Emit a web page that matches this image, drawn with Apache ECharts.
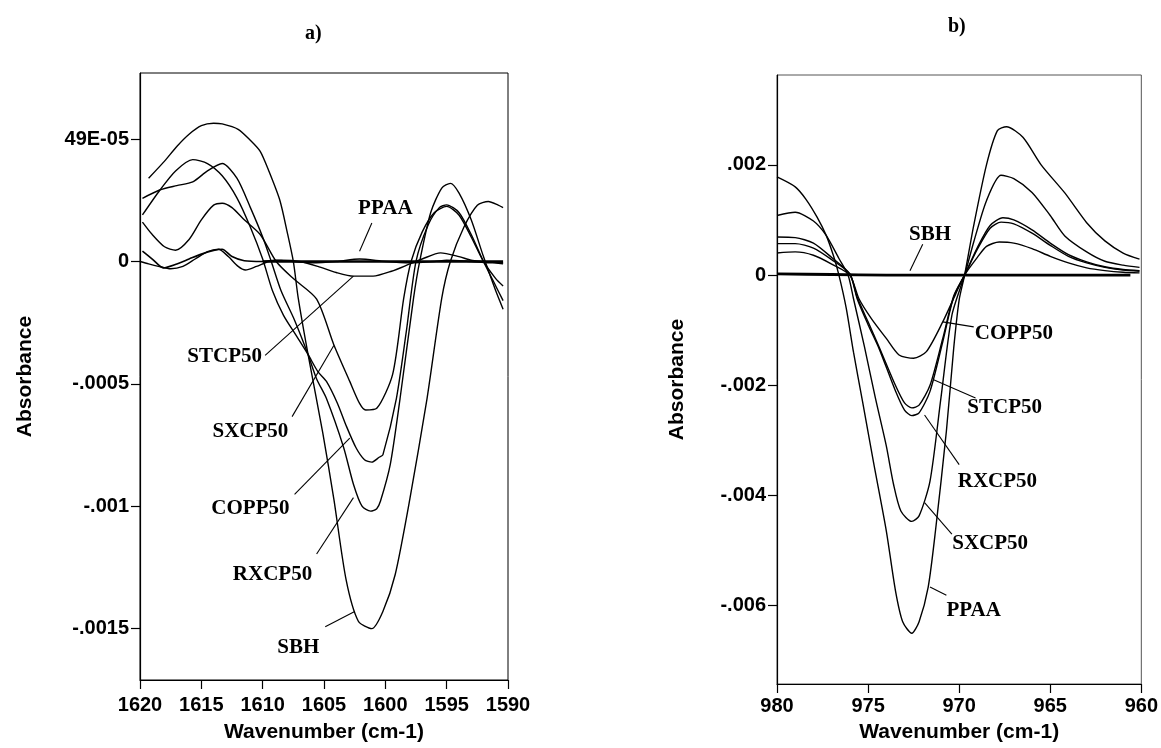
<!DOCTYPE html>
<html>
<head>
<meta charset="utf-8">
<script src="https://cdn.jsdelivr.net/npm/echarts@6/dist/echarts.min.js"></script>
<style>
  html, body { margin: 0; padding: 0; background: #fff; }
  #chart { width: 1161px; height: 748px; }
</style>
</head>
<body>
<div id="chart"></div>
<script>
// ---- Panel a) : 1620-1590 cm-1 difference spectra ----
const aXTicks = [1620, 1615, 1610, 1605, 1600, 1595, 1590];
const aYTicks = [-0.0015, -0.001, -0.0005, 0, 0.0005];
const aYTickLabels = ['-.0015', '-.001', '-.0005', '0', '49E-05'];

const aSBH = [
  [1619.3, 0.00034], [1618.0, 0.00041], [1617.0, 0.00047], [1616.0, 0.00052], [1615.0, 0.000555],
  [1614.0, 0.000565], [1613.3, 0.000562], [1612.0, 0.00054], [1611.0, 0.000495], [1610.2, 0.00045],
  [1609.5, 0.00037], [1608.6, 0.00025], [1608.0, 0.00012], [1607.5, 0.0], [1607.1, -0.00015],
  [1606.3, -0.00038], [1605.1, -0.0007], [1604.2, -0.00097], [1603.2, -0.0013], [1602.2, -0.00147],
  [1601.1, -0.0015], [1600.2, -0.00143], [1599.2, -0.00128], [1598.0, -0.00097], [1596.6, -0.00056],
  [1595.4, -0.00015], [1594.7, 0.0], [1593.6, 0.00014], [1592.5, 0.00023], [1591.6, 0.000245],
  [1590.8, 0.00023], [1590.4, 0.00022]
];
const aRXCP50 = [
  [1619.8, 0.000258], [1618.4, 0.000292], [1617.0, 0.00031], [1615.7, 0.000325], [1614.5, 0.00037],
  [1613.3, 0.0004], [1612.1, 0.00034], [1611.0, 0.00022], [1610.0, 0.0001], [1609.3, 0.0],
  [1608.5, -0.00012], [1607.4, -0.00024], [1606.3, -0.00038], [1605.6, -0.00048], [1604.8, -0.00056],
  [1603.4, -0.00076], [1602.6, -0.00091], [1601.9, -0.001], [1601.2, -0.00102], [1600.7, -0.00101],
  [1600.4, -0.00098], [1599.6, -0.00083], [1598.8, -0.00056], [1597.7, -0.00015], [1597.2, 0.0],
  [1596.3, 0.0002], [1595.4, 0.0003], [1594.7, 0.000319], [1594.0, 0.00028], [1593.0, 0.00017],
  [1592.0, 0.00002], [1591.0, -0.00012], [1590.4, -0.000195]
];
const aCOPP50 = [
  [1619.8, 0.00019], [1618.4, 0.00029], [1617.1, 0.00037], [1615.7, 0.000416], [1614.5, 0.0004],
  [1613.3, 0.00035], [1612.1, 0.00026], [1611.0, 0.00014], [1610.0, 0.00001], [1609.2, -0.00012],
  [1608.3, -0.00022], [1607.3, -0.0003], [1606.3, -0.00038], [1605.5, -0.00045], [1604.8, -0.00049],
  [1603.9, -0.00058], [1603.2, -0.00067], [1602.4, -0.00076], [1601.7, -0.00081], [1601.1, -0.00082],
  [1600.5, -0.0008], [1600.2, -0.00079], [1599.1, -0.00056], [1598.3, -0.00029], [1597.5, 0.0],
  [1596.5, 0.00015], [1595.6, 0.00022], [1595.0, 0.000231], [1594.0, 0.0002], [1593.0, 0.00011],
  [1592.0, 0.0], [1591.0, -0.0001], [1590.4, -0.00016]
];
const aSXCP50 = [
  [1619.8, 0.000161], [1619.0, 0.00011], [1618.0, 0.00006], [1617.1, 0.000046], [1616.0, 0.00009],
  [1615.0, 0.00017], [1614.0, 0.00023], [1613.3, 0.000238], [1612.5, 0.00022], [1611.5, 0.00017],
  [1610.2, 0.00011], [1608.9, 0.0], [1607.5, -0.00007], [1605.6, -0.000154], [1604.2, -0.00034],
  [1602.9, -0.00049], [1602.1, -0.00058], [1601.6, -0.000607], [1600.7, -0.0006], [1599.4, -0.00046],
  [1598.5, -0.00015], [1597.9, 0.0], [1597.0, 0.00012], [1596.0, 0.0002], [1595.0, 0.000225],
  [1594.0, 0.00019], [1593.0, 0.0001], [1592.0, 0.0], [1591.0, -0.00007], [1590.4, -0.0001]
];
const aSTCP50 = [
  [1620.0, 0.0], [1619.3, -0.00001], [1618.5, -0.00002], [1617.5, -0.00003], [1616.5, -0.00002],
  [1615.5, 0.00001], [1614.5, 0.00004], [1613.6, 0.00005], [1612.8, 0.00002], [1612.0, -0.00002],
  [1611.4, -0.000035], [1610.5, -0.00002], [1609.5, 0.0], [1608.5, 0.000005], [1607.0, 0.0],
  [1605.5, -0.00002], [1604.0, -0.000045], [1602.6, -0.00006], [1601.0, -0.00006], [1599.5, -0.00004],
  [1598.0, -0.00001], [1597.0, 0.00001], [1595.5, 0.000035], [1594.0, 0.00002], [1593.0, 0.000005],
  [1592.0, 0.0], [1591.0, -0.000005], [1590.4, -0.00001]
];
const aPPAA = [
  [1619.8, 0.000042], [1619.0, 0.00001], [1618.1, -0.000026], [1617.0, -0.00001], [1616.0, 0.00001],
  [1615.0, 0.00003], [1614.0, 0.000045], [1613.3, 0.00005], [1612.5, 0.00002], [1611.5, 0.000003],
  [1610.0, 0.0], [1609.0, 0.000005], [1607.5, 0.0], [1606.0, -0.000005], [1604.0, 0.0],
  [1602.1, 0.00001], [1600.0, 0.0], [1598.0, -0.000005], [1596.0, 0.0], [1595.0, 0.000005],
  [1593.0, 0.0], [1591.5, -0.000005], [1590.4, -0.000005]
];
// flat baseline that overlaps the near-zero traces on the right half
const aBaseline = [[1610.0, 0.0], [1605.0, 0.0], [1600.0, 0.0], [1595.0, 0.0], [1590.4, 0.0]];

// label text, text x, text y, leader start x, y, leader end x, y
const aNotes = [
  ['PPAA',   1600.0,  0.000218, 1601.1,  0.000157, 1602.1,  0.000042],
  ['STCP50', 1613.1, -0.00039,  1609.8, -0.000384, 1602.6, -0.00006],
  ['SXCP50', 1611.0, -0.000695, 1607.6, -0.000634, 1604.2, -0.000343],
  ['COPP50', 1611.0, -0.00101,  1607.4, -0.000952, 1602.9, -0.000722],
  ['RXCP50', 1609.2, -0.00128,  1605.6, -0.001195, 1602.6, -0.000965],
  ['SBH',    1607.1, -0.001576, 1604.9, -0.001492, 1602.5, -0.00143]
];

// ---- Panel b) : 980-960 cm-1 difference spectra ----
const bXTicks = [980, 975, 970, 965, 960];
const bYTicks = [-0.006, -0.004, -0.002, 0, 0.002];
const bYTickLabels = ['-.006', '-.004', '-.002', '0', '.002'];

const bPPAA = [
  [980.0, 0.00178], [979.0, 0.0016], [978.4, 0.00137], [977.8, 0.00105], [977.3, 0.00072],
  [976.9, 0.00035], [976.6, 0.0], [976.2, -0.0006], [975.8, -0.0014], [975.3, -0.0023],
  [974.7, -0.0034], [974.0, -0.00464], [973.5, -0.00572], [973.1, -0.00629], [972.6, -0.0065],
  [972.2, -0.00629], [971.7, -0.00566], [971.3, -0.00464], [970.7, -0.00283], [970.3, -0.00133],
  [970.0, -0.00045], [969.7, 0.0], [969.2, 0.0009], [968.5, 0.002], [967.9, 0.00262],
  [967.4, 0.00269], [966.5, 0.0025], [965.5, 0.002], [964.2, 0.00149], [963.0, 0.00095],
  [962.0, 0.00062], [961.0, 0.0004], [960.1, 0.00029]
];
const bSXCP50 = [
  [980.0, 0.00108], [979.0, 0.00114], [978.0, 0.00098], [977.3, 0.00072], [976.6, 0.0003],
  [976.1, 0.0], [975.8, -0.00043], [975.2, -0.0013], [974.6, -0.00223], [974.0, -0.0031],
  [973.6, -0.0038], [973.2, -0.00428], [972.6, -0.00447], [972.2, -0.00437], [971.6, -0.00374],
  [971.0, -0.00223], [970.4, -0.00073], [969.7, 0.0], [969.2, 0.0006], [968.5, 0.00135],
  [967.7, 0.00181], [967.0, 0.00175], [966.0, 0.0015], [965.0, 0.00108], [964.2, 0.00071],
  [963.0, 0.00042], [962.0, 0.00025], [961.0, 0.00018], [960.1, 0.00014]
];
const bRXCP50 = [
  [980.0, 0.00069], [979.0, 0.00068], [978.0, 0.00058], [977.0, 0.00032], [976.0, 0.00002],
  [975.6, -0.00043], [975.0, -0.0009], [974.4, -0.00133], [973.5, -0.0021], [973.0, -0.00245],
  [972.6, -0.00255], [972.2, -0.0025], [971.6, -0.00211], [970.9, -0.00121], [970.3, -0.0004],
  [969.7, 0.0], [969.0, 0.0005], [968.3, 0.0009], [967.6, 0.00104], [967.0, 0.001],
  [966.0, 0.00082], [965.0, 0.00058], [964.0, 0.00037], [963.0, 0.00024], [962.0, 0.00015],
  [961.0, 0.0001], [960.1, 0.00008]
];
const bSTCP50 = [
  [980.0, 0.00057], [979.0, 0.00057], [978.0, 0.00049], [977.0, 0.00028], [976.0, 0.00002],
  [975.6, -0.0004], [975.0, -0.00085], [974.4, -0.0013], [973.5, -0.002], [973.0, -0.00232],
  [972.6, -0.00241], [972.2, -0.00236], [971.6, -0.002], [970.9, -0.00115], [970.3, -0.00038],
  [969.7, 0.0], [969.0, 0.00047], [968.3, 0.00085], [967.7, 0.00096], [967.0, 0.00093],
  [966.0, 0.00076], [965.0, 0.00054], [964.0, 0.00034], [963.0, 0.00022], [962.0, 0.00014],
  [961.0, 0.00009], [960.1, 0.00007]
];
const bCOPP50 = [
  [980.0, 0.0004], [979.0, 0.00042], [978.0, 0.00036], [977.0, 0.0002], [976.0, 0.0],
  [975.5, -0.00043], [974.8, -0.0008], [974.0, -0.00115], [973.3, -0.00145], [972.5, -0.00151],
  [971.8, -0.00139], [970.9, -0.00085], [970.2, -0.00035], [969.7, 0.0], [969.0, 0.00032],
  [968.5, 0.00052], [967.8, 0.0006], [967.0, 0.00058], [966.0, 0.00048], [965.0, 0.00034],
  [964.0, 0.00022], [963.0, 0.00013], [962.0, 0.00008], [961.0, 0.00005], [960.1, 0.00004]
];
const bSBH = [
  [980.0, 0.00002], [977.0, 0.00001], [974.0, 0.0], [970.0, 0.0], [966.0, 0.0], [960.6, 0.0]
];

const bNotes = [
  ['SBH',    971.6,  0.000739, 972.0,  0.00056,  972.7,  0.00008],
  ['COPP50', 967.0, -0.00106,  969.2, -0.00094,  970.9, -0.00085],
  ['STCP50', 967.5, -0.00241,  969.1, -0.00223,  971.4, -0.0019],
  ['RXCP50', 967.9, -0.00374,  970.0, -0.00344,  971.9, -0.00254],
  ['SXCP50', 968.3, -0.00488,  970.4, -0.0047,   971.9, -0.00413],
  ['PPAA',   969.2, -0.00608,  970.7, -0.00581,  971.6, -0.00566]
];

// ---- styles ----
const SANS = 'Liberation Sans, Arial, sans-serif';
const SERIF = 'Liberation Serif, Times New Roman, serif';
const INK = '#000';

function xAxisFor(idx, min, max, ticks, labelMargin, nameGap) {
  return {
    type: 'value', gridIndex: idx, min: min, max: max, interval: 5, inverse: true,
    name: 'Wavenumber (cm-1)', nameLocation: 'middle', nameGap: nameGap,
    nameTextStyle: { fontFamily: SANS, fontWeight: 'bold', fontSize: 21, color: INK },
    axisLine: { show: true, onZero: false, lineStyle: { color: INK, width: 1.2 } },
    axisTick: { show: true, inside: false, length: 9, lineStyle: { color: INK, width: 1.2 } },
    axisLabel: {
      fontFamily: SANS, fontWeight: 'bold', fontSize: 20, color: INK, margin: labelMargin,
      customValues: ticks, formatter: v => String(v)
    },
    splitLine: { show: false }
  };
}

function yAxisFor(idx, min, max, ticks, tickLabels, nameGap) {
  return {
    type: 'value', gridIndex: idx, min: min, max: max,
    name: 'Absorbance', nameLocation: 'middle', nameGap: nameGap, nameRotate: 90,
    nameTextStyle: { fontFamily: SANS, fontWeight: 'bold', fontSize: 21, color: INK },
    axisLine: { show: true, onZero: false, lineStyle: { color: INK, width: 1.2 } },
    axisTick: { show: true, inside: false, length: 9, customValues: ticks, lineStyle: { color: INK, width: 1.2 } },
    axisLabel: {
      fontFamily: SANS, fontWeight: 'bold', fontSize: 20, color: INK, margin: 11,
      customValues: ticks,
      formatter: v => {
        const i = ticks.findIndex(t => Math.abs(t - v) < 1e-9);
        return i >= 0 ? tickLabels[i] : '';
      }
    },
    splitLine: { show: false }
  };
}

function curve(name, data, idx, width) {
  return {
    type: 'line', name: name, data: data, xAxisIndex: idx, yAxisIndex: idx,
    showSymbol: false, symbol: 'none', smooth: 0.25, silent: true,
    lineStyle: { color: INK, width: width || 1.4, opacity: 1 }, z: 3
  };
}

function noteSeries(notes, idx) {
  return [
    {
      type: 'lines', coordinateSystem: 'cartesian2d', xAxisIndex: idx, yAxisIndex: idx,
      silent: true, z: 4,
      lineStyle: { color: INK, width: 1.1, opacity: 1 },
      data: notes.map(n => ({ coords: [[n[3], n[4]], [n[5], n[6]]] }))
    },
    {
      type: 'scatter', xAxisIndex: idx, yAxisIndex: idx, silent: true, z: 5,
      symbol: 'circle', symbolSize: 0, itemStyle: { color: INK, opacity: 1 },
      data: notes.map(n => [n[1], n[2], n[0]]),
      label: {
        show: true, position: 'inside', formatter: p => p.value[2],
        fontFamily: SERIF, fontWeight: 'bold', fontSize: 21, color: INK, opacity: 1,
        textBorderWidth: 0
      }
    }
  ];
}

const chart = echarts.init(document.getElementById('chart'), null, { renderer: 'canvas' });
chart.setOption({
  animation: false,
  backgroundColor: '#fff',
  title: [
    { text: 'a)', left: 300, top: 19, textStyle: { fontFamily: SERIF, fontWeight: 'bold', fontSize: 20, color: INK } },
    { text: 'b)', left: 943, top: 12, textStyle: { fontFamily: SERIF, fontWeight: 'bold', fontSize: 20, color: INK } }
  ],
  grid: [
    { left: 140, top: 73, width: 368, height: 611, show: true, borderColor: INK, borderWidth: 1, backgroundColor: 'transparent' },
    { left: 777, top: 75, width: 366, height: 613, show: true, borderColor: '#555', borderWidth: 1, backgroundColor: 'transparent' }
  ],
  xAxis: [
    xAxisFor(0, 1590, 1620, aXTicks, 15, 42),
    xAxisFor(1, 960, 980, bXTicks, 12, 38)
  ],
  yAxis: [
    yAxisFor(0, -0.00171, 0.00077, aYTicks, aYTickLabels, 104),
    yAxisFor(1, -0.00742, 0.00363, bYTicks, bYTickLabels, 89)
  ],
  series: [
    curve('SBH', aSBH, 0),
    curve('RXCP50', aRXCP50, 0),
    curve('COPP50', aCOPP50, 0),
    curve('SXCP50', aSXCP50, 0),
    curve('STCP50', aSTCP50, 0),
    curve('PPAA', aPPAA, 0, 1.6),
    curve('baseline', aBaseline, 0, 2.6),
    ...noteSeries(aNotes, 0),
    curve('PPAA', bPPAA, 1),
    curve('SXCP50', bSXCP50, 1),
    curve('RXCP50', bRXCP50, 1),
    curve('STCP50', bSTCP50, 1),
    curve('COPP50', bCOPP50, 1),
    curve('SBH', bSBH, 1, 2.8),
    ...noteSeries(bNotes, 1)
  ]
});
</script>
</body>
</html>
